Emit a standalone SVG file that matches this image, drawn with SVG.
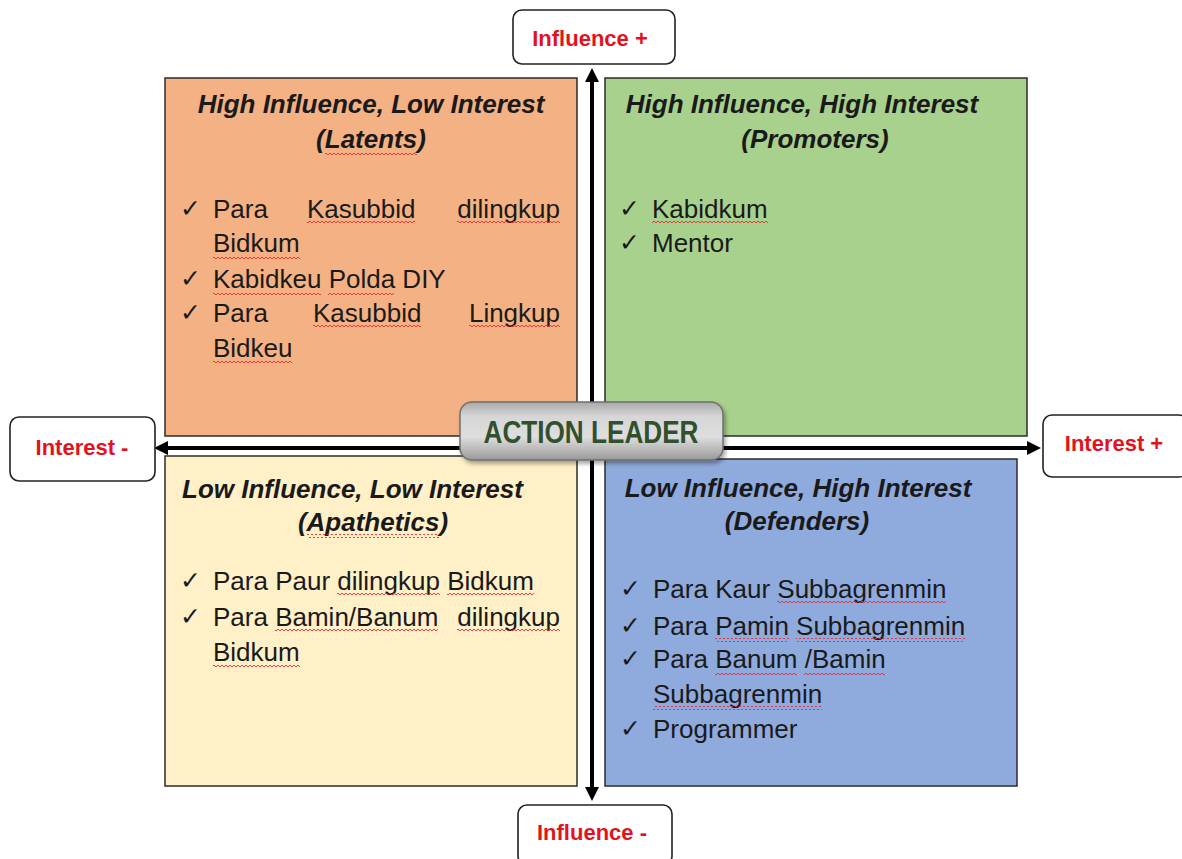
<svg xmlns="http://www.w3.org/2000/svg" width="1182" height="859" viewBox="0 0 1182 859">
<style>
.q{stroke:#2b2b2b;stroke-width:1.5}
.t{font-family:"Liberation Sans","DejaVu Sans",Arial,sans-serif;font-size:26px;fill:#1a1a1a}
.h{font-weight:bold;font-style:italic;text-anchor:middle}
.ck{font-family:"DejaVu Sans",sans-serif;font-size:25px;fill:#1a1a1a}
.lbl{fill:#fff;stroke:#222;stroke-width:1.6}
.lt{font-family:"Liberation Sans",Arial,sans-serif;font-size:22px;font-weight:bold;fill:#e3121d;text-anchor:middle}
.ax{stroke:#000;stroke-width:4;fill:none}
.sq{fill:url(#wave)}
</style>
<defs>
<pattern id="wave" width="4" height="4" patternUnits="userSpaceOnUse">
<path d="M0,3 L2,1 L4,3" fill="none" stroke="#e0303a" stroke-width="0.9"/>
</pattern>
<marker id="ah" markerUnits="userSpaceOnUse" markerWidth="14" markerHeight="14" refX="1" refY="7" orient="auto-start-reverse" viewBox="0 0 14 14">
<path d="M0,0 L14,7 L0,14 z" fill="#000"/>
</marker>
<linearGradient id="alg" x1="0" y1="0" x2="0" y2="1">
<stop offset="0" stop-color="#a9a9a9"/>
<stop offset="0.25" stop-color="#d6d6d6"/>
<stop offset="0.6" stop-color="#dedede"/>
<stop offset="1" stop-color="#9a9a9a"/>
</linearGradient>
<filter id="sh" x="-10%" y="-20%" width="120%" height="150%">
<feDropShadow dx="2" dy="3" stdDeviation="2" flood-color="#000" flood-opacity="0.35"/>
</filter>
</defs>
<rect width="1182" height="859" fill="#fff"/>

<g id="q-latents">
<rect class="q" x="165" y="78" width="412" height="358" fill="#f4b183"/>
<text class="t h" x="371" y="113">High Influence, Low Interest</text>
<text class="t h" x="371" y="148">(Latents)</text>
<rect class="sq" x="325" y="151" width="92" height="4"/>
<text class="ck" x="180" y="217">✓</text>
<text class="t" x="213" y="218">Para</text>
<text class="t" x="307" y="218">Kasubbid</text>
<text class="t" x="560" y="218" text-anchor="end">dilingkup</text>
<rect class="sq" x="307" y="221" width="108" height="4"/>
<rect class="sq" x="457" y="221" width="103" height="4"/>
<text class="t" x="213" y="252">Bidkum</text>
<rect class="sq" x="213" y="255" width="87" height="4"/>
<text class="ck" x="180" y="287">✓</text>
<text class="t" x="213" y="288">Kabidkeu Polda DIY</text>
<rect class="sq" x="213" y="291" width="108" height="4"/>
<rect class="sq" x="328" y="291" width="66" height="4"/>
<text class="ck" x="180" y="321">✓</text>
<text class="t" x="213" y="322">Para</text>
<text class="t" x="313" y="322">Kasubbid</text>
<text class="t" x="560" y="322" text-anchor="end">Lingkup</text>
<rect class="sq" x="313" y="325" width="108" height="4"/>
<rect class="sq" x="469" y="325" width="91" height="4"/>
<text class="t" x="213" y="357">Bidkeu</text>
<rect class="sq" x="213" y="360" width="79" height="4"/>
</g>

<g id="q-promoters">
<rect class="q" x="605" y="78" width="422" height="358" fill="#a9d18e"/>
<text class="t h" x="802" y="113">High Influence, High Interest</text>
<text class="t h" x="815" y="148">(Promoters)</text>
<text class="ck" x="619" y="217">✓</text>
<text class="t" x="652" y="218">Kabidkum</text>
<rect class="sq" x="652" y="221" width="116" height="4"/>
<text class="ck" x="619" y="251">✓</text>
<text class="t" x="652" y="252">Mentor</text>
</g>

<g id="q-apathetics">
<rect class="q" x="165" y="456" width="412" height="330" fill="#fff0c8"/>
<text class="t" x="182" y="498" font-weight="bold" font-style="italic">Low Influence, Low Interest</text>
<text class="t h" x="373" y="531">(Apathetics)</text>
<rect class="sq" x="307" y="534" width="132" height="4"/>
<text class="ck" x="180" y="589">✓</text>
<text class="t" x="213" y="590">Para Paur dilingkup Bidkum</text>
<rect class="sq" x="337" y="593" width="103" height="4"/>
<rect class="sq" x="447" y="593" width="87" height="4"/>
<text class="ck" x="180" y="625">✓</text>
<text class="t" x="213" y="626">Para Bamin/Banum</text>
<text class="t" x="560" y="626" text-anchor="end">dilingkup</text>
<rect class="sq" x="275" y="629" width="163" height="4"/>
<rect class="sq" x="457" y="629" width="103" height="4"/>
<text class="t" x="213" y="661">Bidkum</text>
<rect class="sq" x="213" y="664" width="87" height="4"/>
</g>

<g id="q-defenders">
<rect class="q" x="605" y="459" width="412" height="327" fill="#8faadc"/>
<text class="t h" x="798" y="497">Low Influence, High Interest</text>
<text class="t h" x="797" y="530">(Defenders)</text>
<text class="ck" x="620" y="597">✓</text>
<text class="t" x="653" y="598">Para Kaur Subbagrenmin</text>
<rect class="sq" x="777" y="601" width="169" height="4"/>
<text class="ck" x="620" y="634">✓</text>
<text class="t" x="653" y="635">Para Pamin Subbagrenmin</text>
<rect class="sq" x="715" y="638" width="74" height="4"/>
<rect class="sq" x="796" y="638" width="169" height="4"/>
<text class="ck" x="620" y="667">✓</text>
<text class="t" x="653" y="668">Para Banum /Bamin</text>
<rect class="sq" x="715" y="671" width="82" height="4"/>
<rect class="sq" x="804" y="671" width="81" height="4"/>
<text class="t" x="653" y="703">Subbagrenmin</text>
<rect class="sq" x="653" y="706" width="169" height="4"/>
<text class="ck" x="620" y="737">✓</text>
<text class="t" x="653" y="738">Programmer</text>
</g>

<g id="connectors">
<line class="ax" x1="592" y1="81" x2="592" y2="788" marker-start="url(#ah)" marker-end="url(#ah)"/>
<line class="ax" x1="167" y1="448" x2="1028" y2="448" marker-start="url(#ah)" marker-end="url(#ah)"/>
</g>

<g id="action-leader">
<rect x="460" y="402" width="263" height="58" rx="12" fill="url(#alg)" stroke="#6f6f6f" stroke-width="1.5" filter="url(#sh)"/>
<text x="591" y="443" font-family="Liberation Sans,Arial,sans-serif" font-weight="bold" font-size="32" fill="#33502e" text-anchor="middle" textLength="215" lengthAdjust="spacingAndGlyphs">ACTION LEADER</text>
</g>

<g id="influence-plus">
<rect class="lbl" x="513" y="10" width="162" height="54" rx="9"/>
<text class="lt" x="590" y="46">Influence +</text>
</g>
<g id="influence-minus">
<rect class="lbl" x="518" y="805" width="154" height="60" rx="9"/>
<text class="lt" x="592" y="840">Influence -</text>
</g>
<g id="interest-minus">
<rect class="lbl" x="10" y="417" width="145" height="64" rx="9"/>
<text class="lt" x="82" y="455">Interest -</text>
</g>
<g id="interest-plus">
<rect class="lbl" x="1043" y="415" width="145" height="62" rx="9"/>
<text class="lt" x="1114" y="451">Interest +</text>
</g>
</svg>
